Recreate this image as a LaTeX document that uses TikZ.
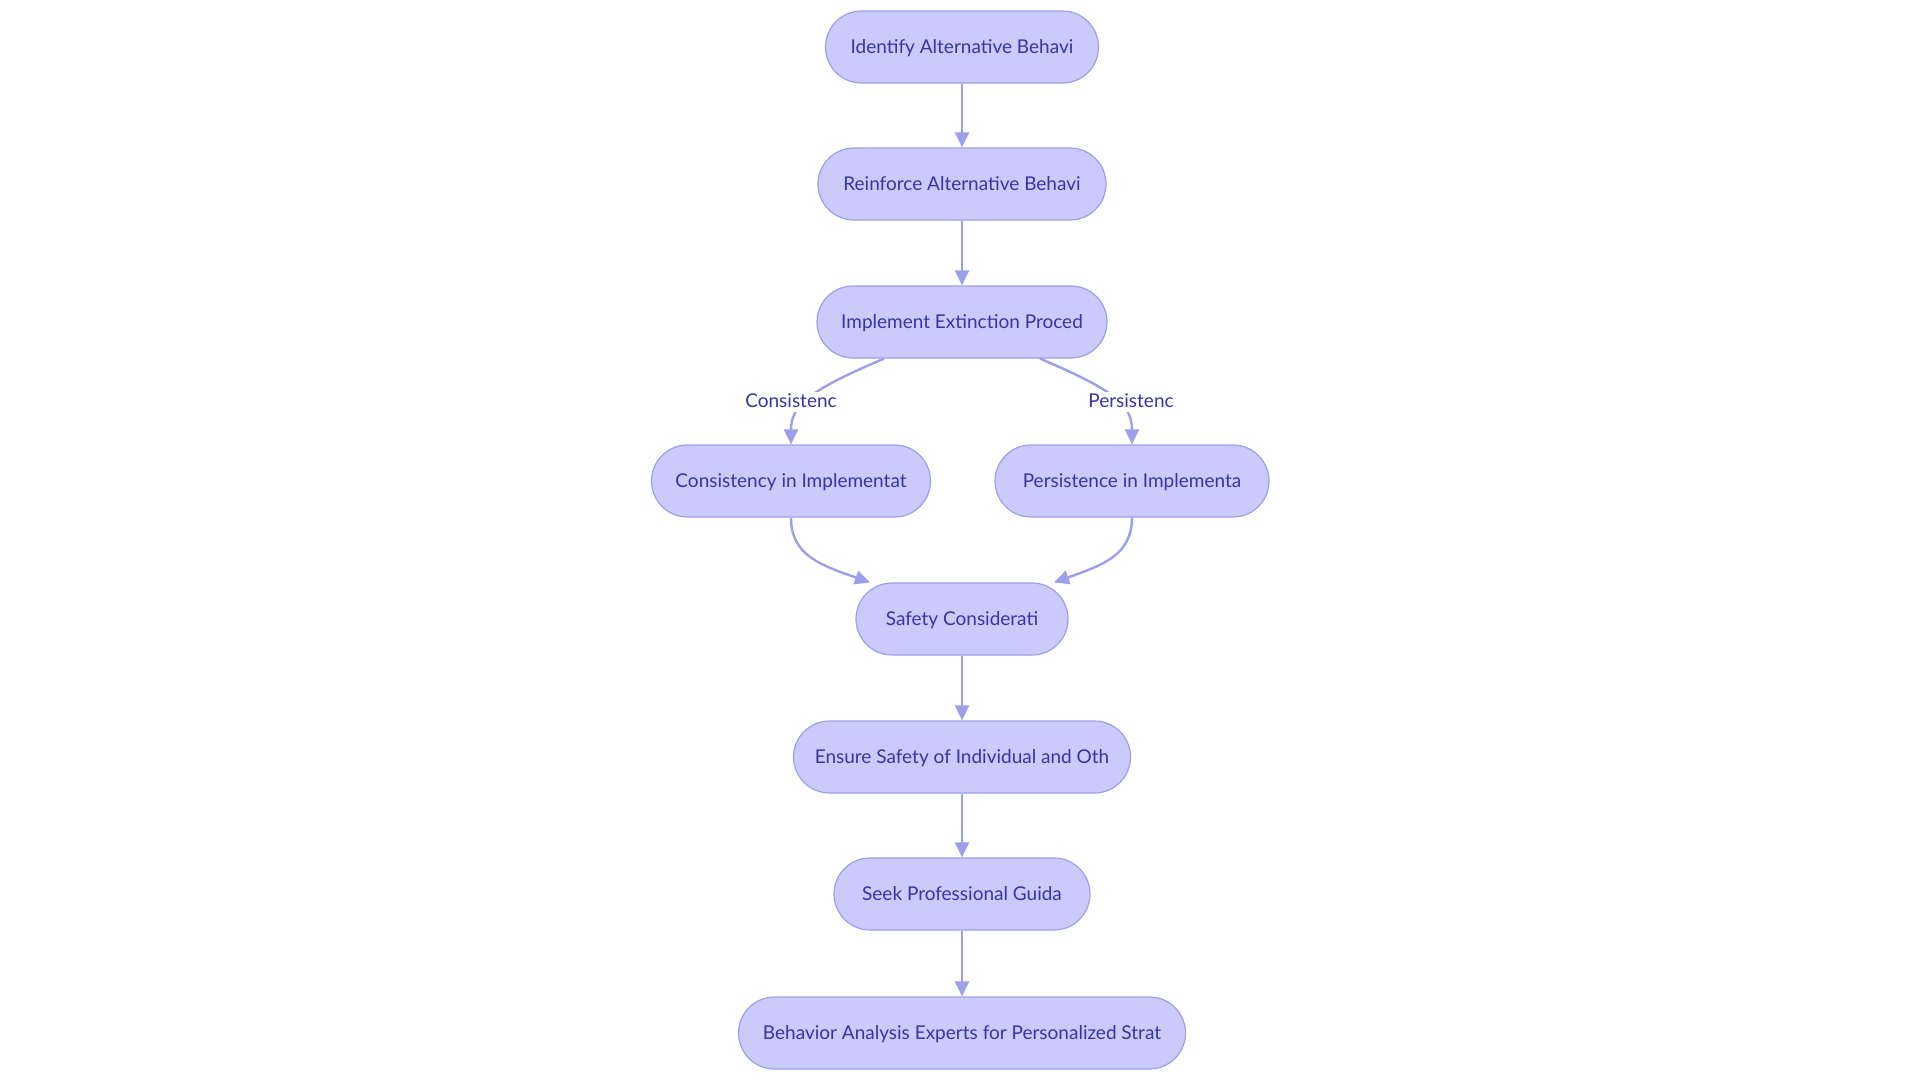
\documentclass[tikz,border=0pt]{standalone}
\usepackage{fontspec}
\setmainfont{Lato}
\usetikzlibrary{arrows.meta}
\definecolor{nfill}{HTML}{CACBFB}
\definecolor{nline}{HTML}{9C9FEA}
\definecolor{ntext}{HTML}{3535A8}
\tikzset{
  box/.style={draw=nline, fill=nfill, line width=1.2pt, rounded corners=36pt,
    minimum height=72pt, text=ntext, font=\fontsize{19}{22}\selectfont, inner sep=0pt,
    text height=13.5pt, text depth=0pt},
  conn/.style={draw=nline, line width=2.4pt, -{Triangle[length=15pt,width=14pt]}},
  elabel/.style={fill=white, text=ntext, font=\fontsize{19}{22}\selectfont, inner sep=2pt,
    text height=13.5pt, text depth=3pt}
}
\begin{document}
\begin{tikzpicture}[x=1pt,y=-1pt]
\useasboundingbox (0,0) rectangle (1920,1080);
\node[box, minimum width=273pt] (n1) at (962,47) {Identify Alternative Behavi};
\node[box, minimum width=288pt] (n2) at (962,184) {Reinforce Alternative Behavi};
\node[box, minimum width=290pt] (n3) at (962,322) {Implement Extinction Proced};
\node[box, minimum width=279pt] (n4) at (791,481) {Consistency in Implementat};
\node[box, minimum width=274pt] (n5) at (1132,481) {Persistence in Implementa};
\node[box, minimum width=212pt] (n6) at (962,619) {Safety Considerati};
\node[box, minimum width=337pt] (n7) at (962,757) {Ensure Safety of Individual and Oth};
\node[box, minimum width=256pt] (n8) at (962,894) {Seek Professional Guida};
\node[box, minimum width=447pt] (n9) at (962,1033) {Behavior Analysis Experts for Personalized Strat};

\draw[conn] (n1) -- (n2);
\draw[conn] (n2) -- (n3);
\draw[conn] ([xshift=-78pt]n3.south) .. controls (810,390) and (791,405) .. (n4.north);
\draw[conn] ([xshift=78pt]n3.south) .. controls (1114,390) and (1132,405) .. (n5.north);
\node[elabel] (l1) at (791,402) {Consistenc};
\node[elabel] (l2) at (1131,402) {Persistenc};
\draw[conn] (n4.south) .. controls (791,555) and (820,565) .. ([xshift=-92pt]n6.north);
\draw[conn] (n5.south) .. controls (1132,555) and (1103,565) .. ([xshift=92pt]n6.north);
\draw[conn] (n6) -- (n7);
\draw[conn] (n7) -- (n8);
\draw[conn] (n8) -- (n9);
\end{tikzpicture}
\end{document}
